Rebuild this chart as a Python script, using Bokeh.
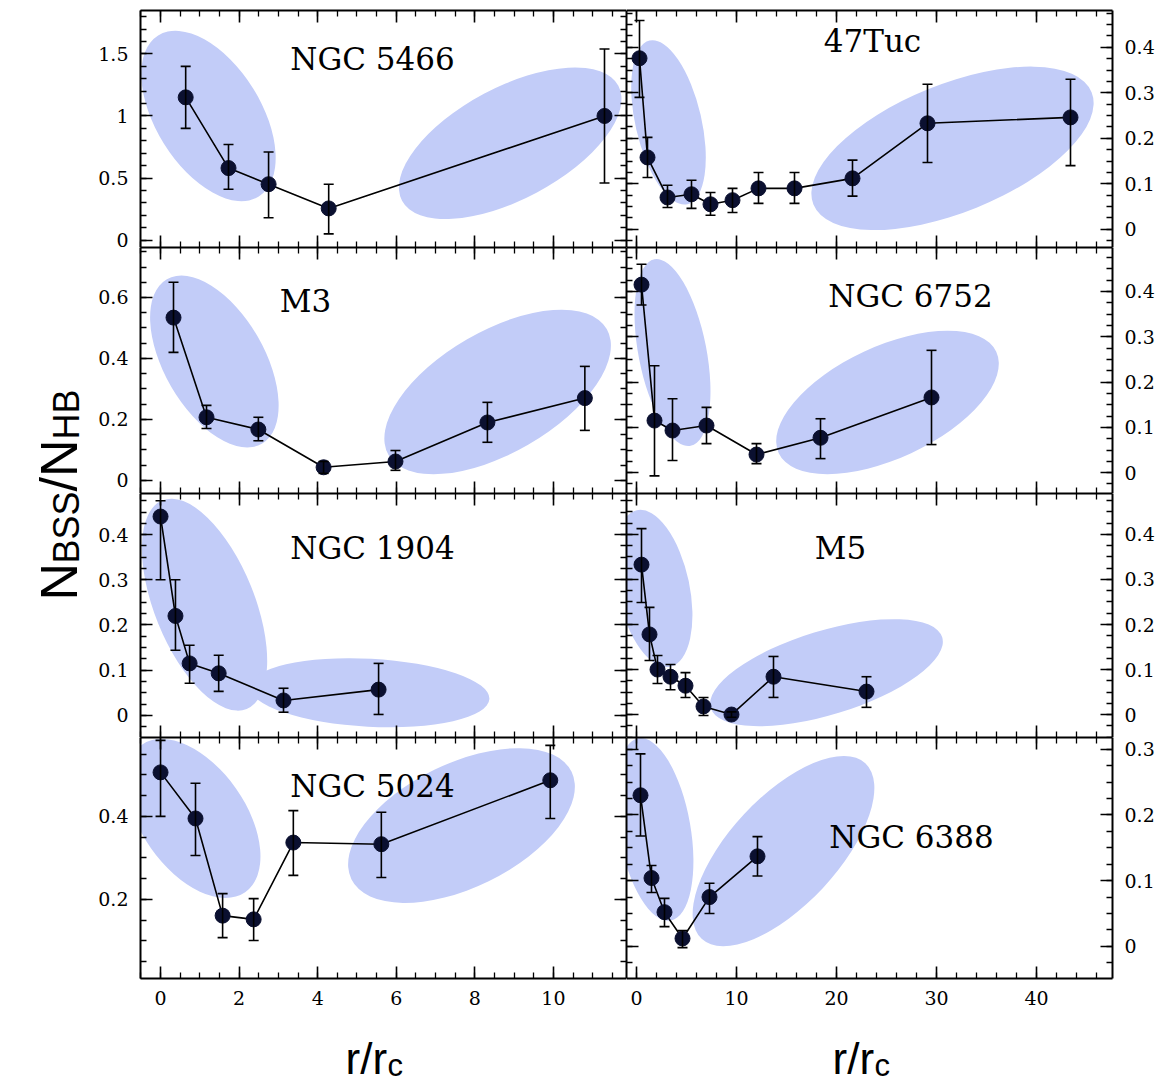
import math
from bokeh.plotting import figure
from bokeh.layouts import gridplot, row as brow, column as bcol
from bokeh.models import Range1d, LinearAxis, FixedTicker, Whisker, TeeHead, ColumnDataSource
from bokeh.core.properties import value
from bokeh.embed import file_html
from bokeh.resources import INLINE

# ---------------- data ----------------
names = ["NGC 5466", "47Tuc", "M3", "NGC 6752", "NGC 1904", "M5", "NGC 5024", "NGC 6388"]

r_5466 = [0.64, 1.73, 2.75, 4.28, 11.3]
v_5466 = [1.15, 0.58, 0.45, 0.255, 1.0]
lo_5466 = [0.90, 0.41, 0.18, 0.05, 0.46]
hi_5466 = [1.40, 0.77, 0.71, 0.45, 1.54]

r_47tuc = [0.3, 1.1, 3.1, 5.5, 7.4, 9.6, 12.2, 15.8, 21.6, 29.1, 43.4]
v_47tuc = [0.376, 0.158, 0.070, 0.077, 0.055, 0.064, 0.090, 0.090, 0.112, 0.233, 0.246]
lo_47tuc = [0.29, 0.114, 0.048, 0.046, 0.031, 0.037, 0.057, 0.057, 0.073, 0.147, 0.140]
hi_47tuc = [0.459, 0.202, 0.097, 0.108, 0.081, 0.090, 0.125, 0.125, 0.152, 0.319, 0.330]

r_m3 = [0.33, 1.17, 2.49, 4.15, 5.98, 8.32, 10.8]
v_m3 = [0.534, 0.207, 0.167, 0.043, 0.062, 0.19, 0.27]
lo_m3 = [0.42, 0.17, 0.13, 0.023, 0.033, 0.125, 0.164]
hi_m3 = [0.65, 0.246, 0.207, 0.062, 0.098, 0.256, 0.374]

r_6752 = [0.5, 1.8, 3.6, 7.0, 12.0, 18.4, 29.5]
v_6752 = [0.415, 0.115, 0.093, 0.104, 0.040, 0.077, 0.166]
lo_6752 = [0.37, -0.007, 0.027, 0.064, 0.020, 0.031, 0.062]
hi_6752 = [0.46, 0.236, 0.163, 0.144, 0.064, 0.119, 0.270]

r_1904 = [0.0, 0.38, 0.74, 1.48, 3.13, 5.55]
v_1904 = [0.44, 0.22, 0.115, 0.093, 0.033, 0.057]
lo_1904 = [0.30, 0.144, 0.071, 0.053, 0.007, 0.002]
hi_1904 = [0.475, 0.30, 0.155, 0.133, 0.060, 0.115]

r_m5 = [0.5, 1.3, 2.1, 3.4, 4.9, 6.7, 9.5, 13.7, 23.0]
v_m5 = [0.333, 0.178, 0.100, 0.084, 0.064, 0.018, 0.0, 0.084, 0.051]
lo_m5 = [0.249, 0.120, 0.069, 0.055, 0.038, -0.002, -0.006, 0.038, 0.016]
hi_m5 = [0.413, 0.238, 0.131, 0.111, 0.093, 0.038, 0.006, 0.129, 0.084]

r_5024 = [0.0, 0.89, 1.58, 2.37, 3.38, 5.62, 9.92]
v_5024 = [0.506, 0.395, 0.161, 0.152, 0.337, 0.333, 0.487]
lo_5024 = [0.40, 0.306, 0.108, 0.101, 0.258, 0.253, 0.395]
hi_5024 = [0.583, 0.48, 0.214, 0.202, 0.414, 0.410, 0.571]

r_6388 = [0.4, 1.5, 2.8, 4.6, 7.3, 12.1]
v_6388 = [0.23, 0.104, 0.052, 0.012, 0.075, 0.137]
lo_6388 = [0.168, 0.082, 0.030, -0.002, 0.050, 0.107]
hi_6388 = [0.293, 0.123, 0.073, 0.024, 0.096, 0.167]

series = [
    (r_5466, v_5466, lo_5466, hi_5466),
    (r_47tuc, v_47tuc, lo_47tuc, hi_47tuc),
    (r_m3, v_m3, lo_m3, hi_m3),
    (r_6752, v_6752, lo_6752, hi_6752),
    (r_1904, v_1904, lo_1904, hi_1904),
    (r_m5, v_m5, lo_m5, hi_m5),
    (r_5024, v_5024, lo_5024, hi_5024),
    (r_6388, v_6388, lo_6388, hi_6388),
]

# ---------------- layout / style ----------------
ELL = "#c2ccf8"
DOT = "#0b1030"
TICKFONT = "DejaVu Serif"
LABFONT = "Liberation Sans"
row_h = [237, 246, 244, 241]
xr = [(-0.51, 11.86), (-1.0, 47.6)]
yr = [[(-0.06, 1.85), (-0.04, 0.481)],
      [(-0.043, 0.764), (-0.046, 0.497)],
      [(-0.049, 0.491), (-0.051, 0.491)],
      [(0.0096, 0.59), (-0.049, 0.318)]]
xmaj = [[0, 2, 4, 6, 8, 10], [0, 10, 20, 30, 40]]
xmin = [[i * 0.5 for i in range(-1, 24)], [i * 2 for i in range(-1, 25)]]
ymaj = [[[0, 0.5, 1, 1.5], [0, 0.1, 0.2, 0.3, 0.4]],
        [[0, 0.2, 0.4, 0.6], [0, 0.1, 0.2, 0.3, 0.4]],
        [[0, 0.1, 0.2, 0.3, 0.4], [0, 0.1, 0.2, 0.3, 0.4]],
        [[0.2, 0.4], [0, 0.1, 0.2, 0.3]]]
ystep = [[0.1, 0.025], [0.05, 0.025], [0.025, 0.025], [0.05, 0.025]]

# ellipses: (x, y, width_px, height_px, angle_deg)
ellipses = [
    [(1.22, 1.0, 190, 105, -58), (8.9, 0.78, 245, 112, 28)],
    [(3.2, 0.235, 168, 66, -77), (31.6, 0.178, 300, 128, 22)],
    [(1.37, 0.39, 190, 100, -60), (8.58, 0.29, 252, 122, 30)],
    [(3.6, 0.265, 190, 68, -79), (25.1, 0.155, 240, 112, 25)],
    [(1.12, 0.245, 225, 100, -68), (5.32, 0.05, 240, 68, -3)],
    [(1.7, 0.28, 160, 72, -78), (19.0, 0.093, 242, 84, 17)],
    [(0.84, 0.395, 180, 104, -55), (7.66, 0.378, 245, 124, 26)],
    [(1.8, 0.178, 185, 72, -80), (14.7, 0.145, 240, 108, 47)],
]
titles_px = [(372, 58), (872, 40), (305, 300), (910, 295), (372, 547), (840, 547), (372, 785), (911, 836)]
col_left = [140, 626]
row_top = [10, 247, 493, 737]


def style_axis(ax, labeled):
    ax.axis_line_width = 2
    ax.axis_line_color = "black"
    ax.major_tick_in = 12
    ax.major_tick_out = 0
    ax.minor_tick_in = 6
    ax.minor_tick_out = 0
    ax.major_tick_line_width = 1.6
    ax.minor_tick_line_width = 1.3
    ax.major_tick_line_color = "black"
    ax.minor_tick_line_color = "black"
    if labeled:
        ax.major_label_text_font = TICKFONT
        ax.major_label_text_font_size = "19px"
        ax.major_label_text_color = "black"
        ax.major_label_standoff = 12
    else:
        ax.major_label_text_font_size = "0px"
        ax.major_label_standoff = 0


figs = []
for k in range(8):
    rw, col = divmod(k, 2)
    x0, x1 = xr[col]
    y0, y1 = yr[rw][col]
    p = figure(frame_width=486, frame_height=row_h[rw], output_backend="svg",
               toolbar_location=None, x_range=Range1d(x0, x1), y_range=Range1d(y0, y1),
               x_axis_type=None, y_axis_type=None,
               min_border_left=52 if col == 0 else 0,
               min_border_right=0 if col == 0 else 55,
               min_border_top=10 if rw == 0 else 0,
               min_border_bottom=45 if rw == 3 else 0)
    p.outline_line_color = None
    p.grid.visible = False

    xt = FixedTicker(ticks=xmaj[col], minor_ticks=xmin[col])
    ys = ystep[rw][col]
    nmin = int(round((y1 - y0) / ys)) + 4
    ystart = math.floor(y0 / ys) * ys
    yt = FixedTicker(ticks=ymaj[rw][col], minor_ticks=[round(ystart + i * ys, 4) for i in range(nmin)])
    overrides = {t: "%g" % t for t in ymaj[rw][col]}
    xover = {t: "%g" % t for t in xmaj[col]}

    for side in ["left", "right"]:
        ax = LinearAxis(ticker=yt, major_label_overrides=overrides)
        style_axis(ax, (side == "left") == (col == 0))
        p.add_layout(ax, side)
    for side in ["below", "above"]:
        ax = LinearAxis(ticker=xt, major_label_overrides=xover)
        style_axis(ax, side == "below" and rw == 3)
        p.add_layout(ax, side)

    for (ex, ey, ew, eh, ea) in ellipses[k]:
        p.ellipse(x=[ex], y=[ey], width=ew, height=eh, width_units="screen", height_units="screen",
                  angle=math.radians(ea), fill_color=ELL, line_color=None)

    r, v, lo, hi = series[k]
    src = ColumnDataSource(dict(r=r, v=v, lo=lo, hi=hi))
    p.line("r", "v", source=src, line_color="black", line_width=1.6)
    w = Whisker(base="r", lower="lo", upper="hi", source=src, line_color="black", line_width=1.6,
                level="overlay",
                lower_head=TeeHead(size=10, line_color="black", line_width=1.6),
                upper_head=TeeHead(size=10, line_color="black", line_width=1.6))
    p.add_layout(w)
    p.scatter("r", "v", source=src, size=15, fill_color=DOT, line_color=DOT)

    tx, ty = titles_px[k]
    dx = x0 + (tx - col_left[col]) / 486 * (x1 - x0)
    dy = y1 - (ty - row_top[rw]) / row_h[rw] * (y1 - y0)
    p.text(x=[dx], y=[dy], text=[names[k]], text_align="center", text_baseline="middle",
           text_font=value("DejaVu Serif"), text_font_size="31px", text_color="black")
    figs.append(p)

grid = gridplot([[figs[0], figs[1]], [figs[2], figs[3]], [figs[4], figs[5]], [figs[6], figs[7]]],
                toolbar_location=None)


def blank(w, h, xr_, yr_):
    f = figure(frame_width=w, frame_height=h, output_backend="svg", toolbar_location=None,
               x_range=Range1d(*xr_), y_range=Range1d(*yr_), x_axis_type=None, y_axis_type=None,
               min_border=0)
    f.outline_line_color = None
    f.grid.visible = False
    return f


ylab = blank(88, 1023, (0, 88), (-1023, 0))
for txt, fs, xb, yb in [("N", "52px", 58, -600), ("BSS", "36px", 66, -563),
                        ("/N", "52px", 58, -491), ("HB", "36px", 66, -439)]:
    ylab.text(x=[xb], y=[yb], text=[txt], angle=math.pi / 2, text_align="left", text_baseline="alphabetic",
              text_font=value(LABFONT), text_font_size=fs, text_color="black")

xlab = blank(1167, 60, (0, 1167), (-1083, -1023))
for xb in [345, 832]:
    xlab.text(x=[xb], y=[-1058], text=["r/r"], text_align="left", text_baseline="alphabetic",
              text_font=value(LABFONT), text_font_size="44px", text_color="black")
    xlab.text(x=[xb + 42], y=[-1065], text=["c"], text_align="left", text_baseline="alphabetic",
              text_font=value(LABFONT), text_font_size="31px", text_color="black")

page = bcol(brow(ylab, grid), xlab)
open("out.html", "w").write(file_html(page, INLINE))
